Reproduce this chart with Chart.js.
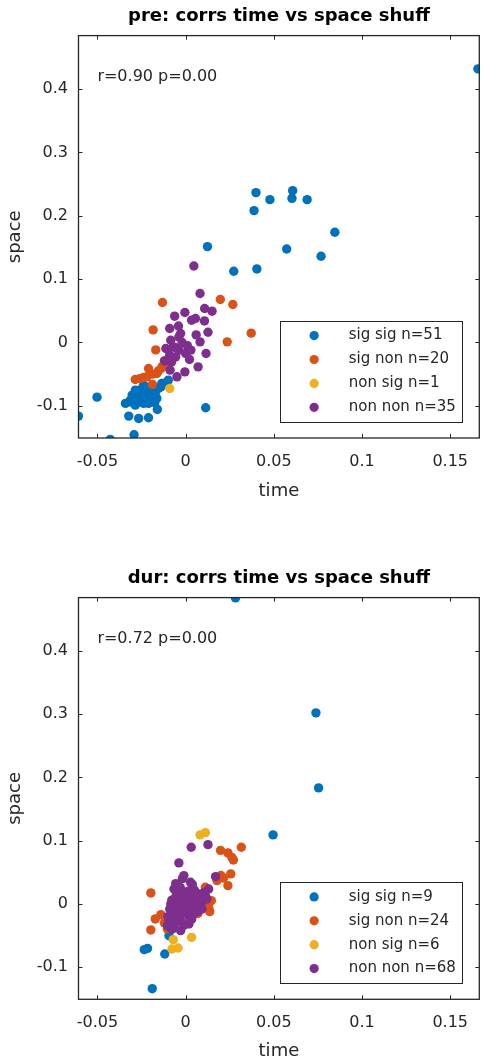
<!DOCTYPE html>
<html>
<head>
<meta charset="utf-8">
<title>corrs time vs space shuff</title>
<script src="https://cdn.jsdelivr.net/npm/chart.js@4.4.0/dist/chart.umd.min.js"></script>
<style>
  body { margin: 0; background: #fff; }
  canvas { display: block; }
</style>
</head>
<body>
<canvas id="preChart" width="484" height="532"></canvas>
<canvas id="durChart" width="484" height="532"></canvas>
<script>
// groups (same order as the legend)
const groupNames = ['sig sig', 'sig non', 'non sig', 'non non'];
const groupColors = ['rgb(0,114,189)', 'rgb(217,83,25)', 'rgb(237,177,32)', 'rgb(126,47,142)'];

const xTicks = [-0.05, 0, 0.05, 0.1, 0.15];
const yTicks = [-0.1, 0, 0.1, 0.2, 0.3, 0.4];
const xLimits = [-0.0607, 0.1665];
const yLimits = [-0.1508, 0.4845];

// pre: [time, space]
const preSigSig = [
  [0.1657, 0.4320], [0.0399, 0.2366], [0.0607, 0.2397], [0.0603, 0.2276], [0.0478, 0.2255],
  [0.0689, 0.2255], [0.0388, 0.2082], [0.0846, 0.1740], [0.0124, 0.1514], [0.0573, 0.1476],
  [0.0768, 0.1361], [0.0273, 0.1125], [0.0404, 0.1161],
  [0.0114, -0.1031], [-0.0502, -0.0863], [-0.0607, -0.1162], [-0.0427, -0.1530], [-0.0292, -0.1457],
  [-0.0322, -0.1162], [-0.0266, -0.1199], [-0.0210, -0.1189], [-0.0160, -0.1057], [-0.0341, -0.0962],
  [-0.0303, -0.0831], [-0.0285, -0.0752], [-0.0266, -0.0910], [-0.0238, -0.0962], [-0.0219, -0.0805],
  [-0.0191, -0.0883], [-0.0172, -0.0805], [-0.0182, -0.0726], [-0.0247, -0.0726], [-0.0135, -0.0647],
  [-0.0098, -0.0595], [-0.0154, -0.0726], [-0.0266, -0.0831], [-0.0313, -0.0910], [-0.0210, -0.0962],
  [-0.0238, -0.0673], [-0.0200, -0.0700], [-0.0163, -0.0883], [-0.0285, -0.0989], [-0.0295, -0.0880],
  [-0.0225, -0.0850], [-0.0190, -0.0780], [-0.0260, -0.0770], [-0.0140, -0.0700], [-0.0210, -0.0920],
  [-0.0175, -0.0950], [-0.0310, -0.0940], [-0.0110, -0.0630]
];
const preSigNon = [
  [-0.0131, 0.0631], [0.0197, 0.0678], [0.0268, 0.0599], [-0.0184, 0.0199], [0.0372, 0.0147],
  [0.0236, 0.0010], [-0.0169, -0.0117], [-0.0120, -0.0290], [-0.0139, -0.0410], [-0.0210, -0.0410],
  [-0.0163, -0.0489], [-0.0238, -0.0552], [-0.0285, -0.0584], [-0.0188, -0.0662], [-0.0131, -0.0374],
  [-0.0219, -0.0542], [-0.0155, -0.0450], [-0.0260, -0.0570], [-0.0105, -0.0340], [-0.0190, -0.0500]
];
const preNonSig = [
  [-0.0090, -0.0726]
];
const preNonNon = [
  [0.0047, 0.1208], [0.0082, 0.0773], [0.0108, 0.0536], [0.0150, 0.0494], [-0.0004, 0.0473],
  [-0.0062, 0.0415], [0.0034, 0.0352], [0.0056, 0.0378], [0.0107, 0.0340], [-0.0090, 0.0221],
  [0.0127, 0.0162], [-0.0028, 0.0142], [0.0082, 0.0010], [-0.0038, 0.0088], [-0.0112, -0.0095],
  [-0.0071, -0.0069], [-0.0038, -0.0121], [0.0000, -0.0174], [0.0116, -0.0174], [0.0022, -0.0268],
  [-0.0118, -0.0290], [-0.0079, -0.0306], [0.0071, -0.0385], [-0.0004, -0.0464], [-0.0088, -0.0437],
  [-0.0049, -0.0542], [-0.0056, -0.0227], [-0.0084, 0.0036], [-0.0020, 0.0000], [-0.0060, -0.0080],
  [0.0030, -0.0120], [-0.0090, -0.0200], [0.0010, -0.0050], [-0.0040, 0.0260], [0.0060, 0.0120]
];

// dur: [time, space]
const durSigSig = [
  [0.0283, 0.4840], [0.0739, 0.3022], [0.0754, 0.1835], [0.0496, 0.1092], [-0.0234, -0.0723],
  [-0.0216, -0.0703], [-0.0118, -0.0791], [-0.0189, -0.1340], [-0.0094, -0.0502]
];
const durSigNon = [
  [0.0316, 0.0896], [0.0198, 0.0848], [0.0240, 0.0807], [0.0262, 0.0737], [0.0271, 0.0696],
  [0.0256, 0.0475], [0.0215, 0.0411], [0.0240, 0.0290], [0.0178, 0.0369], [0.0112, 0.0263],
  [-0.0197, 0.0174], [0.0146, 0.0052], [0.0121, -0.0027], [0.0137, -0.0122], [-0.0140, -0.0169],
  [-0.0172, -0.0237], [-0.0197, -0.0411], [-0.0103, -0.0396], [0.0131, -0.0054], [0.0050, 0.0100],
  [-0.0120, -0.0300], [0.0070, -0.0150], [0.0200, 0.0450], [-0.0080, -0.0350]
];
const durNonSig = [
  [0.0082, 0.1092], [0.0112, 0.1128], [0.0034, -0.0528], [-0.0070, -0.0565], [-0.0077, -0.0712],
  [-0.0043, -0.0696]
];
const durNonNon = [
  [0.0032, 0.0896], [0.0127, 0.0938], [-0.0038, 0.0649], [0.0170, 0.0432], [0.0131, 0.0237],
  [-0.0010, 0.0448], [-0.0056, 0.0321], [0.0028, 0.0342], [-0.0066, 0.0237], [0.0075, 0.0158],
  [0.0112, 0.0131], [-0.0084, 0.0000], [-0.0028, 0.0052], [0.0019, 0.0025], [0.0065, 0.0000],
  [0.0093, -0.0079], [-0.0056, -0.0133], [0.0000, -0.0106], [0.0047, -0.0158], [-0.0094, -0.0264],
  [-0.0028, -0.0264], [0.0019, -0.0316], [-0.0075, -0.0396], [-0.0028, -0.0422], [-0.0103, -0.0343],
  [-0.0042, 0.0158], [0.0000, 0.0184], [0.0040, 0.0090], [-0.0015, -0.0050], [0.0030, -0.0030],
  [-0.0060, -0.0020], [0.0055, 0.0060], [-0.0035, 0.0080], [0.0010, 0.0110], [-0.0050, -0.0220],
  [0.0020, -0.0200], [-0.0070, -0.0300], [-0.0010, -0.0340], [0.0080, 0.0030], [0.0100, 0.0050],
  [-0.0080, -0.0150], [-0.0020, -0.0150], [0.0045, -0.0070], [-0.0040, -0.0080], [0.0015, 0.0200],
  [-0.0030, 0.0260], [0.0060, 0.0150], [-0.0065, -0.0350], [-0.0090, -0.0080], [0.0035, -0.0240],
  [-0.0045, 0.0040], [0.0025, 0.0040], [0.0070, -0.0120], [-0.0012, 0.0000], [-0.0085, -0.0380],
  [0.0085, 0.0100], [-0.0025, -0.0280], [0.0005, -0.0060], [-0.0055, 0.0120], [0.0050, 0.0220],
  [-0.0100, -0.0200], [0.0012, -0.0120], [-0.0033, -0.0180], [0.0105, 0.0180], [-0.0078, 0.0060],
  [0.0038, 0.0310], [-0.0018, 0.0400], [0.0120, 0.0080]
];

// text position of the r/p note, in data units
const notePos = [-0.05, 0.42];

const axisColor = '#262626';
const fontFamily = '"DejaVu Sans", sans-serif';
Chart.defaults.font.family = fontFamily;
Chart.defaults.color = axisColor;

// box, inward ticks on all sides, r/p note and the boxed legend
const matlabAxes = {
    id: 'matlabAxes',
    afterDraw(chart, args, opts) {
        const ctx = chart.ctx;
        const a = chart.chartArea;
        const xs = chart.scales.x, ys = chart.scales.y;
        ctx.save();
        ctx.strokeStyle = axisColor;
        ctx.lineWidth = 1.3;
        ctx.strokeRect(a.left, a.top, a.right - a.left, a.bottom - a.top);
        ctx.lineWidth = 1;
        ctx.beginPath();
        xs.ticks.forEach(t => {
            const px = Math.round(xs.getPixelForValue(t.value)) + 0.5;
            ctx.moveTo(px, a.bottom); ctx.lineTo(px, a.bottom - 4);
            ctx.moveTo(px, a.top); ctx.lineTo(px, a.top + 4);
        });
        ys.ticks.forEach(t => {
            const py = Math.round(ys.getPixelForValue(t.value)) + 0.5;
            ctx.moveTo(a.left, py); ctx.lineTo(a.left + 4, py);
            ctx.moveTo(a.right, py); ctx.lineTo(a.right - 4, py);
        });
        ctx.stroke();

        ctx.fillStyle = axisColor;
        ctx.font = '16px ' + fontFamily;
        ctx.textAlign = 'left';
        ctx.textBaseline = 'middle';
        ctx.fillText(opts.note, xs.getPixelForValue(notePos[0]), ys.getPixelForValue(notePos[1]));

        // legend
        const sets = chart.data.datasets;
        ctx.font = '15px ' + fontFamily;
        const textW = Math.max(...sets.map(d => ctx.measureText(d.label).width));
        const w = 69 + textW + 6;
        const h = 14.7 * 2 + 23.9 * (sets.length - 1);
        const right = a.right - 17.5, bottom = a.bottom - 16;
        const left = right - w, top = bottom - h;
        ctx.fillStyle = '#fff';
        ctx.fillRect(left, top, w, h);
        ctx.strokeRect(Math.round(left) + 0.5, Math.round(top) + 0.5, Math.round(w), Math.round(h));
        sets.forEach((d, i) => {
            const cy = top + 14.7 + i * 23.9;
            ctx.fillStyle = d.backgroundColor;
            ctx.beginPath();
            ctx.arc(left + 34.4, cy, 4.6, 0, Math.PI * 2);
            ctx.fill();
            ctx.fillStyle = axisColor;
            ctx.fillText(d.label, left + 69, cy);
        });
        ctx.restore();
    }
};

function makeChart(id, title, note, groups, lay) {
    const datasets = groups.map((pts, i) => ({
        label: groupNames[i] + ' n=' + pts.length,
        data: pts,
        backgroundColor: groupColors[i],
        borderWidth: 0,
        pointRadius: 4.7,
        pointHoverRadius: 4.7,
        order: groups.length - i
    }));
    return new Chart(document.getElementById(id), {
        type: 'scatter',
        data: { datasets: datasets },
        plugins: [matlabAxes],
        options: {
            responsive: false,
            animation: false,
            events: [],
            layout: { padding: { left: 0, right: 1, top: 0, bottom: 0 } },
            plugins: {
                legend: { display: false },
                tooltip: { enabled: false },
                title: {
                    display: true,
                    text: title,
                    fullSize: false,
                    color: '#000',
                    font: { size: 18, weight: 'bold' },
                    padding: { top: lay.titleTop, bottom: 8 }
                },
                matlabAxes: { note: note }
            },
            scales: {
                x: {
                    type: 'linear',
                    bounds: 'data',
                    min: xLimits[0],
                    max: xLimits[1],
                    afterBuildTicks: s => { s.ticks = xTicks.map(v => ({ value: v })); },
                    afterFit: s => { s.height = lay.xAxisHeight; },
                    grid: { display: false, drawTicks: false },
                    border: { display: false },
                    ticks: {
                        autoSkip: false, maxRotation: 0, padding: 14,
                        font: { size: 16 },
                        callback: v => String(v)
                    },
                    title: {
                        display: true, text: 'time',
                        font: { size: 18 },
                        padding: { top: 0, bottom: lay.timeBottom }
                    }
                },
                y: {
                    type: 'linear',
                    bounds: 'data',
                    min: yLimits[0],
                    max: yLimits[1],
                    afterBuildTicks: s => { s.ticks = yTicks.map(v => ({ value: v })); },
                    afterFit: s => { s.width = 78.5; },
                    grid: { display: false, drawTicks: false },
                    border: { display: false },
                    ticks: {
                        autoSkip: false, padding: 10.5,
                        font: { size: 16 },
                        callback: v => String(v)
                    },
                    title: {
                        display: true, text: 'space',
                        font: { size: 18 },
                        padding: { top: 5, bottom: 0 }
                    }
                }
            }
        }
    });
}

var preChart = makeChart('preChart', 'pre: corrs time vs space shuff', 'r=0.90 p=0.00',
    [preSigSig, preSigNon, preNonSig, preNonNon],
    { titleTop: 6, xAxisHeight: 94, timeBottom: 30 });

var durChart = makeChart('durChart', 'dur: corrs time vs space shuff', 'r=0.72 p=0.00',
    [durSigSig, durSigNon, durNonSig, durNonNon],
    { titleTop: 36, xAxisHeight: 64.7, timeBottom: 2 });
</script>
</body>
</html>
